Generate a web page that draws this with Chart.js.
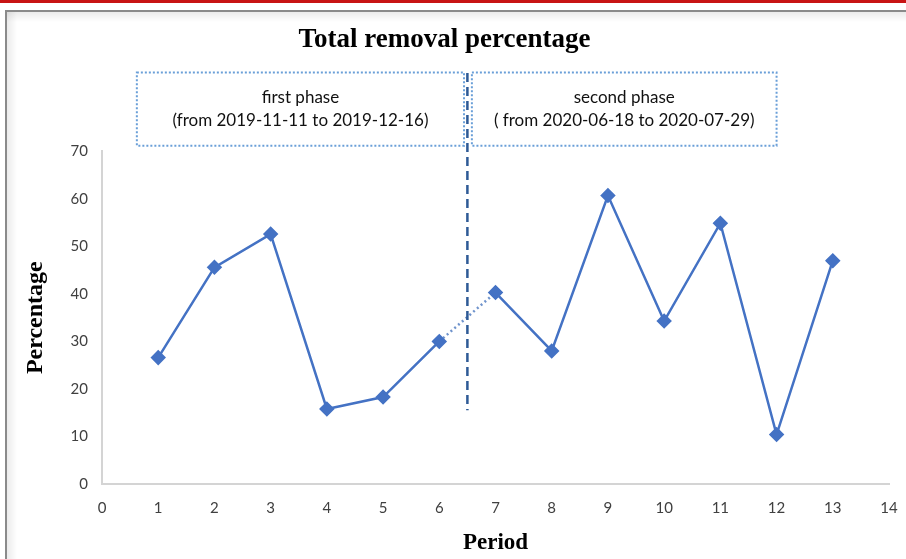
<!DOCTYPE html>
<html>
<head>
<meta charset="utf-8">
<script src="https://cdn.jsdelivr.net/npm/chart.js@4"></script>
<style>
  html, body { margin: 0; padding: 0; background: #ffffff; }
  #wrap { position: relative; width: 906px; height: 559px; }
  canvas { display: block; }
</style>
</head>
<body>
<div id="wrap"><canvas id="c" width="906" height="559"></canvas></div>
<script>
// ---- data ----
const periods = [1, 2, 3, 4, 5, 6, 7, 8, 9, 10, 11, 12, 13];
const removalPct = [26.6, 45.6, 52.6, 15.8, 18.3, 30.0, 40.3, 28.0, 60.7, 34.3, 54.9, 10.4, 47.0];
const xTicks = [0, 1, 2, 3, 4, 5, 6, 7, 8, 9, 10, 11, 12, 13, 14];
const yTicks = [0, 10, 20, 30, 40, 50, 60, 70];
const phaseTitles = ["first phase", "second phase"];
const phaseRanges = ["(from 2019-11-11 to 2019-12-16)", "( from 2020-06-18 to 2020-07-29)"];
const phaseSplit = 6.5;

const points = periods.map((p, i) => ({ x: p, y: removalPct[i] }));

const decor = {
  id: 'decor',
  beforeDraw(chart) {
    const ctx = chart.ctx;
    ctx.save();
    ctx.fillStyle = '#ffffff';
    ctx.fillRect(0, 0, chart.width, chart.height);
    // red strip
    ctx.fillStyle = '#c81414';
    ctx.fillRect(0, 0, chart.width, 3);
    // frame shadow
    const g1 = ctx.createLinearGradient(0, 12, 0, 22);
    g1.addColorStop(0, 'rgba(0,0,0,0.08)');
    g1.addColorStop(1, 'rgba(0,0,0,0)');
    ctx.fillStyle = g1;
    ctx.fillRect(7, 12, chart.width - 7, 10);
    const g2 = ctx.createLinearGradient(7, 0, 17, 0);
    g2.addColorStop(0, 'rgba(0,0,0,0.08)');
    g2.addColorStop(1, 'rgba(0,0,0,0)');
    ctx.fillStyle = g2;
    ctx.fillRect(7, 12, 10, chart.height - 12);
    // frame
    ctx.strokeStyle = '#8a8a8a';
    ctx.lineWidth = 2;
    ctx.beginPath();
    ctx.moveTo(6, chart.height);
    ctx.lineTo(6, 11);
    ctx.lineTo(chart.width, 11);
    ctx.stroke();
    ctx.restore();
  },
  afterDatasetsDraw(chart) {
    const ctx = chart.ctx;
    const xs = chart.scales.x, ys = chart.scales.y;
    ctx.save();
    // dashed split line
    const sx = xs.getPixelForValue(phaseSplit);
    ctx.strokeStyle = '#2e5a96';
    ctx.lineWidth = 2.5;
    ctx.setLineDash([9, 5]);
    ctx.beginPath();
    ctx.moveTo(sx, ys.getPixelForValue(86.5));
    ctx.lineTo(sx, ys.getPixelForValue(15.5));
    ctx.stroke();
    // phase boxes
    const boxes = [
      [xs.getPixelForValue(0.62), xs.getPixelForValue(6.44)],
      [xs.getPixelForValue(6.58), xs.getPixelForValue(12.0)]
    ];
    const top = ys.getPixelForValue(86.6), bot = ys.getPixelForValue(71.2);
    ctx.strokeStyle = '#6a9fd8';
    ctx.lineWidth = 2;
    ctx.setLineDash([2, 2]);
    boxes.forEach(([l, r], i) => {
      ctx.strokeRect(l, top, r - l, bot - top);
      ctx.fillStyle = '#111111';
      ctx.font = '17px Lato';
      ctx.textAlign = 'center';
      ctx.textBaseline = 'middle';
      const cx = (l + r) / 2;
      ctx.fillText(phaseTitles[i], cx, top + 25);
      ctx.fillText(phaseRanges[i], cx, top + 48);
    });
    ctx.restore();
  }
};

new Chart(document.getElementById('c'), {
  type: 'line',
  data: {
    datasets: [{
      data: points,
      borderColor: '#4472c4',
      backgroundColor: '#4472c4',
      borderWidth: 2.5,
      pointStyle: 'rectRot',
      pointRadius: 6,
      pointHoverRadius: 6,
      tension: 0,
      segment: {
        borderDash: c => c.p0DataIndex === 5 ? [2, 3] : undefined,
        borderColor: c => c.p0DataIndex === 5 ? '#6f93cc' : undefined
      }
    }]
  },
  options: {
    responsive: false,
    animation: false,
    devicePixelRatio: 1,
    layout: { padding: { left: 0, right: 17, top: 0, bottom: 0 } },
    plugins: {
      legend: { display: false },
      tooltip: { enabled: false },
      title: {
        display: true,
        text: 'Total removal percentage',
        color: '#000000',
        align: 'center',
        font: { family: 'Liberation Serif', size: 27, weight: 'bold' },
        padding: { top: 24, bottom: 95 }
      }
    },
    scales: {
      x: {
        type: 'linear',
        min: 0, max: 14,
        afterBuildTicks: s => { s.ticks = xTicks.map(v => ({ value: v })); },
        grid: { display: false, drawTicks: false },
        border: { display: true, color: '#d4d4d4', width: 2 },
        ticks: { color: '#404040', font: { family: 'Lato', size: 15 }, padding: 15, maxRotation: 0 },
        title: {
          display: true, text: 'Period', color: '#000000',
          font: { family: 'Liberation Serif', size: 23, weight: 'bold' },
          padding: { top: 8, bottom: 2 }
        },
        afterFit: s => { s.height = 75; s.paddingRight = 0; s.paddingLeft = 0; }
      },
      y: {
        min: 0, max: 70,
        afterBuildTicks: s => { s.ticks = yTicks.map(v => ({ value: v })); },
        grid: { display: false, drawTicks: false },
        border: { display: true, color: '#d4d4d4', width: 2 },
        ticks: { color: '#404040', font: { family: 'Lato', size: 15 }, padding: 14 },
        title: {
          display: true, text: 'Percentage', color: '#000000',
          font: { family: 'Liberation Serif', size: 24, weight: 'bold' },
          padding: { top: 21, bottom: 0 }
        },
        afterFit: s => { s.width = 102; s.paddingTop = 0; s.paddingBottom = 0; }
      }
    }
  },
  plugins: [decor]
});
</script>
</body>
</html>
